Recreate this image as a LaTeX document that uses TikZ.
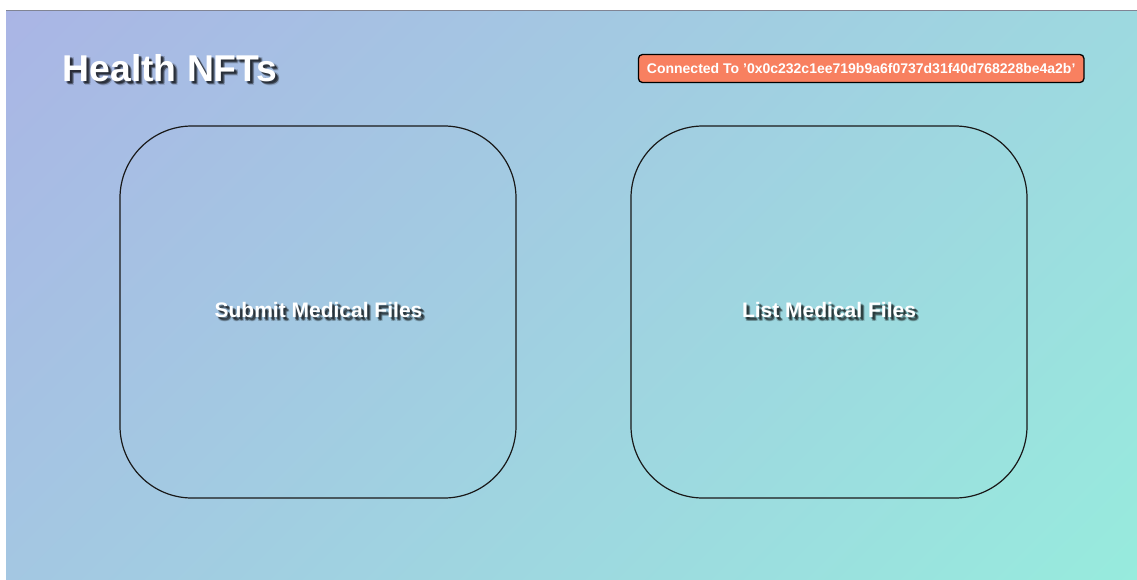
\documentclass[tikz,border=0pt]{standalone}
\usepackage{fontspec}
\usetikzlibrary{shadings}
\setmainfont{Liberation Sans}
\definecolor{bgUL}{RGB}{170,181,229}
\definecolor{bgLR}{RGB}{151,235,221}
\colorlet{bgUR}{bgLR!66.5!bgUL}
\colorlet{bgLL}{bgLR!33.5!bgUL}
\definecolor{btnfill}{RGB}{248,128,96}
\definecolor{topline}{RGB}{128,132,148}
\newcommand\shtext[4]{%
  \foreach \dx/\dy/\op [count=\i] in {2/2/0.35, 3/3/0.28, 3.5/2.5/0.2, 2.5/3.5/0.2, 4/4/0.15}{%
    \node[#3, text=black, opacity=\op, xshift=\dx pt, yshift=-\dy pt] (#1s\i) at (#2) {#4};
  }%
  \node[#3] (#1) at (#2) {#4};%
}
\begin{document}
\begin{tikzpicture}[x=1pt,y=-1pt,
  card/.style={draw=black!90, line width=1.2pt, rounded corners=72pt, minimum width=396pt, minimum height=372pt, inner sep=0pt},
  title/.style={text=white, font=\bfseries\fontsize{37.3}{44}\selectfont, inner sep=0pt, anchor=base west},
  cardlabel/.style={text=white, font=\bfseries\fontsize{21}{25}\selectfont, inner sep=0pt, anchor=base},
  conn/.style={draw=black, line width=1.3pt, fill=btnfill, rounded corners=4pt, text=white, font=\bfseries\fontsize{14}{17}\selectfont, minimum width=445.5pt, minimum height=28pt, inner sep=0pt}
]
\useasboundingbox (0,0) rectangle (1137,579);
\fill[white] (0,0) rectangle (1137,579);
\shade[upper left=bgUL, upper right=bgUR, lower left=bgLL, lower right=bgLR] (6,10) rectangle (1137,579);
\draw[topline, line width=1pt] (6,10.5) -- (1137,10.5);

\shtext{title}{62.5,81.3}{title}{Health NFTs}

\node[conn] (connected) at (861.2,68.5) {Connected To '0x0c232c1ee719b9a6f0737d31f40d768228be4a2b'};

\node[card] (submitcard) at (318,312) {};
\node[card] (listcard) at (829,312) {};

\shtext{submit}{318.5,317.5}{cardlabel}{Submit Medical Files}
\shtext{list}{829,317.5}{cardlabel}{List Medical Files}
\end{tikzpicture}
\end{document}
